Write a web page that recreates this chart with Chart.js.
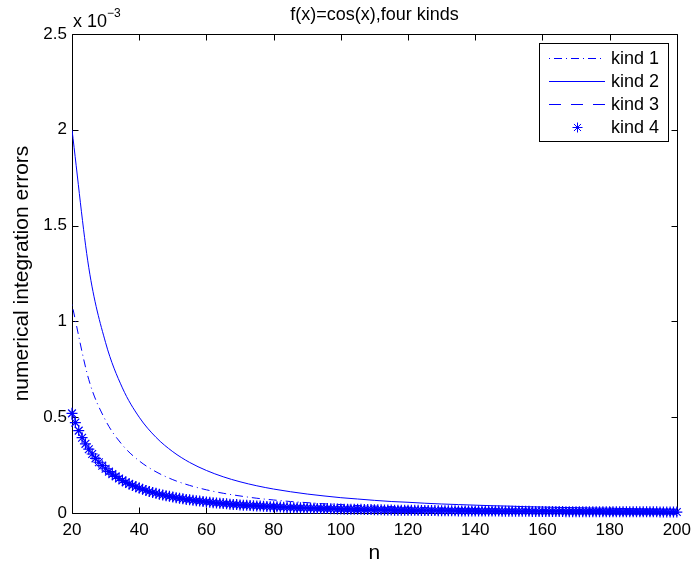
<!DOCTYPE html>
<html>
<head>
<meta charset="utf-8">
<script src="https://cdn.jsdelivr.net/npm/chart.js@4"></script>
<style>
  html, body { margin: 0; padding: 0; background: #fff; }
</style>
</head>
<body>
<canvas id="errChart" width="698" height="564"></canvas>
<script>
// values are in units of 1e-3 (the axis shows "x 10^-3")
const chartTitle = 'f(x)=cos(x),four kinds'
const xLabel = 'n'
const yLabel = 'numerical integration errors'
const seriesNames = ['kind 1', 'kind 2', 'kind 3', 'kind 4']

// sample points for the three line series
const nLine = [20, 25, 30, 35, 40, 45, 50, 55, 60, 65, 70, 75, 80, 85, 90, 95, 100,
    105, 110, 115, 120, 125, 130, 135, 140, 145, 150, 155, 160, 165, 170, 175, 180,
    185, 190, 195, 200]

const kind1 = [1.088, 0.696, 0.483, 0.355, 0.272, 0.215, 0.174, 0.144, 0.121, 0.103,
    0.089, 0.077, 0.068, 0.060, 0.054, 0.048, 0.044, 0.039, 0.036, 0.033, 0.030,
    0.028, 0.026, 0.024, 0.022, 0.021, 0.019, 0.018, 0.017, 0.016, 0.015, 0.014,
    0.013, 0.013, 0.012, 0.011, 0.011]

const kind2 = [2.000, 1.280, 0.889, 0.653, 0.500, 0.395, 0.320, 0.264, 0.222, 0.189,
    0.163, 0.142, 0.125, 0.111, 0.099, 0.089, 0.080, 0.073, 0.066, 0.060, 0.056,
    0.051, 0.047, 0.044, 0.041, 0.038, 0.036, 0.033, 0.031, 0.029, 0.028, 0.026,
    0.025, 0.023, 0.022, 0.021, 0.020]

const kind3 = [0.520, 0.333, 0.231, 0.170, 0.130, 0.103, 0.083, 0.069, 0.058, 0.049,
    0.042, 0.037, 0.033, 0.029, 0.026, 0.023, 0.021, 0.019, 0.017, 0.016, 0.014,
    0.013, 0.012, 0.011, 0.011, 0.010, 0.009, 0.009, 0.008, 0.008, 0.007, 0.007,
    0.006, 0.006, 0.006, 0.005, 0.005]

// kind 4: one star per n, n = 20 .. 200
const kind4Start = 20
const kind4 = [
    0.520, 0.472, 0.430, 0.393, 0.361, 0.333, 0.308, 0.285, 0.265, 0.247,
    0.231, 0.216, 0.203, 0.191, 0.180, 0.170, 0.160, 0.152, 0.144, 0.137,
    0.130, 0.124, 0.118, 0.112, 0.107, 0.103, 0.098, 0.094, 0.090, 0.087,
    0.083, 0.080, 0.077, 0.074, 0.071, 0.069, 0.066, 0.064, 0.062, 0.060,
    0.058, 0.056, 0.054, 0.052, 0.051, 0.049, 0.048, 0.046, 0.045, 0.044,
    0.042, 0.041, 0.040, 0.039, 0.038, 0.037, 0.036, 0.035, 0.034, 0.033,
    0.033, 0.032, 0.031, 0.030, 0.029, 0.029, 0.028, 0.027, 0.027, 0.026,
    0.026, 0.025, 0.025, 0.024, 0.024, 0.023, 0.023, 0.022, 0.022, 0.021,
    0.021, 0.020, 0.020, 0.020, 0.019, 0.019, 0.019, 0.018, 0.018, 0.018,
    0.017, 0.017, 0.017, 0.016, 0.016, 0.016, 0.015, 0.015, 0.015, 0.015,
    0.014, 0.014, 0.014, 0.014, 0.013, 0.013, 0.013, 0.013, 0.013, 0.012,
    0.012, 0.012, 0.012, 0.012, 0.012, 0.011, 0.011, 0.011, 0.011, 0.011,
    0.011, 0.010, 0.010, 0.010, 0.010, 0.010, 0.010, 0.010, 0.009, 0.009,
    0.009, 0.009, 0.009, 0.009, 0.009, 0.009, 0.009, 0.008, 0.008, 0.008,
    0.008, 0.008, 0.008, 0.008, 0.008, 0.008, 0.008, 0.007, 0.007, 0.007,
    0.007, 0.007, 0.007, 0.007, 0.007, 0.007, 0.007, 0.007, 0.007, 0.006,
    0.006, 0.006, 0.006, 0.006, 0.006, 0.006, 0.006, 0.006, 0.006, 0.006,
    0.006, 0.006, 0.006, 0.006, 0.006, 0.005, 0.005, 0.005, 0.005, 0.005,
    0.005
]

const xTickMin = 20, xTickMax = 200, xTickStep = 20
const yTickMin = 0, yTickMax = 2.5, yTickStep = 0.5

const BLUE = 'rgb(0,0,255)'
const FONT = "'Liberation Sans', Arial, Helvetica, sans-serif"
const dashes = [[1, 4, 8, 4], [], [12, 10], null]

Chart.defaults.font.family = FONT
Chart.defaults.color = '#000'

const linePoints = (vals) => vals.map((v, i) => ({ x: nLine[i], y: v }))
const starPoints = kind4.map((v, i) => ({ x: kind4Start + i, y: v }))

const starPath = (ctx, cx, cy, r) => {
    ctx.beginPath()
    for (let k = 0; k < 4; k++) {
        const ang = k * Math.PI / 4
        ctx.moveTo(cx - r * Math.cos(ang), cy - r * Math.sin(ang))
        ctx.lineTo(cx + r * Math.cos(ang), cy + r * Math.sin(ang))
    }
    ctx.stroke()
}

// box, inward ticks, title, exponent label and legend drawn the matlab way
const matlabAxes = {
    id: 'matlabAxes',
    beforeDatasetsDraw(chart) {
        const { ctx, chartArea: a, scales: { x, y } } = chart
        const L = Math.round(a.left) + 0.5, R = Math.round(a.right) + 0.5
        const T = Math.round(a.top) + 0.5, B = Math.round(a.bottom) + 0.5
        ctx.save()
        ctx.strokeStyle = '#000'
        ctx.lineWidth = 1
        ctx.beginPath()
        ctx.rect(L, T, R - L, B - T)
        x.ticks.forEach((t) => {
            const px = Math.round(x.getPixelForValue(t.value)) + 0.5
            ctx.moveTo(px, B); ctx.lineTo(px, B - 6)
            ctx.moveTo(px, T); ctx.lineTo(px, T + 6)
        })
        y.ticks.forEach((t) => {
            const py = Math.round(y.getPixelForValue(t.value)) + 0.5
            ctx.moveTo(L, py); ctx.lineTo(L + 6, py)
            ctx.moveTo(R, py); ctx.lineTo(R - 6, py)
        })
        ctx.stroke()
        ctx.restore()
    },
    afterDraw(chart) {
        const { ctx, chartArea: a } = chart
        ctx.save()
        ctx.fillStyle = '#000'
        // title over the axes
        ctx.font = '18px ' + FONT
        ctx.textAlign = 'center'
        ctx.textBaseline = 'alphabetic'
        ctx.fillText(chartTitle, (a.left + a.right) / 2, 20)
        // x 10^-3
        ctx.textAlign = 'left'
        ctx.fillText('x 10', a.left + 1, 27)
        const w = ctx.measureText('x 10').width
        ctx.font = '12px ' + FONT
        ctx.fillText('\u22123', a.left + 1 + w, 17)

        // legend
        const boxW = 129, boxH = 98
        const boxL = Math.round(a.right) - 9 - boxW, boxT = Math.round(a.top) + 9
        ctx.fillStyle = '#fff'
        ctx.fillRect(boxL, boxT, boxW, boxH)
        ctx.strokeStyle = '#000'
        ctx.lineWidth = 1
        ctx.strokeRect(boxL + 0.5, boxT + 0.5, boxW, boxH)
        ctx.font = '18px ' + FONT
        ctx.textBaseline = 'middle'
        seriesNames.forEach((name, i) => {
            const ry = boxT + 15 + i * 23
            ctx.strokeStyle = BLUE
            if (dashes[i]) {
                ctx.setLineDash(dashes[i])
                ctx.beginPath()
                ctx.moveTo(boxL + 10, ry + 0.5)
                ctx.lineTo(boxL + 66, ry + 0.5)
                ctx.stroke()
                ctx.setLineDash([])
            } else {
                starPath(ctx, boxL + 38.5, ry + 0.5, 5)
            }
            ctx.fillStyle = '#000'
            ctx.fillText(name, boxL + 72, ry + 1)
        })
        ctx.restore()
    },
}

new Chart(document.getElementById('errChart'), {
    type: 'line',
    data: {
        datasets: [
            {
                label: seriesNames[0], data: linePoints(kind1), borderColor: BLUE,
                borderWidth: 1, borderDash: dashes[0], pointRadius: 0,
                cubicInterpolationMode: 'monotone', order: 4,
            },
            {
                label: seriesNames[1], data: linePoints(kind2), borderColor: BLUE,
                borderWidth: 1, pointRadius: 0, cubicInterpolationMode: 'monotone', order: 3,
            },
            {
                label: seriesNames[2], data: linePoints(kind3), borderColor: BLUE,
                borderWidth: 1, borderDash: dashes[2], pointRadius: 0,
                cubicInterpolationMode: 'monotone', order: 2,
            },
            {
                label: seriesNames[3], data: starPoints, showLine: false,
                pointStyle: 'star', pointRadius: 5.5, borderColor: BLUE,
                backgroundColor: BLUE, pointBorderWidth: 1.2, clip: false, order: 1,
            },
        ],
    },
    options: {
        responsive: false,
        animation: false,
        devicePixelRatio: 1,
        layout: { padding: { top: 34, right: 17, left: 0, bottom: 0 } },
        plugins: { legend: { display: false }, tooltip: { enabled: false }, title: { display: false } },
        scales: {
            x: {
                type: 'linear', min: xTickMin, max: xTickMax,
                grid: { display: false, drawTicks: false }, border: { display: false },
                ticks: { stepSize: xTickStep, font: { size: 17 }, padding: 7, maxRotation: 0 },
                title: { display: true, text: xLabel, font: { size: 21, lineHeight: 1 }, padding: { top: 0, bottom: 0 } },
                afterFit: (s) => { s.height = 51 },
            },
            y: {
                min: yTickMin, max: yTickMax,
                grid: { display: false, drawTicks: false }, border: { display: false },
                ticks: {
                    stepSize: yTickStep, font: { size: 17 }, padding: 5,
                    callback: (v) => String(Number(v.toFixed(1))),
                },
                title: { display: true, text: yLabel, font: { size: 21 }, padding: { top: 9.5, bottom: 0 } },
                afterFit: (s) => { s.width = 72 },
            },
        },
    },
    plugins: [matlabAxes],
})
</script>
</body>
</html>
